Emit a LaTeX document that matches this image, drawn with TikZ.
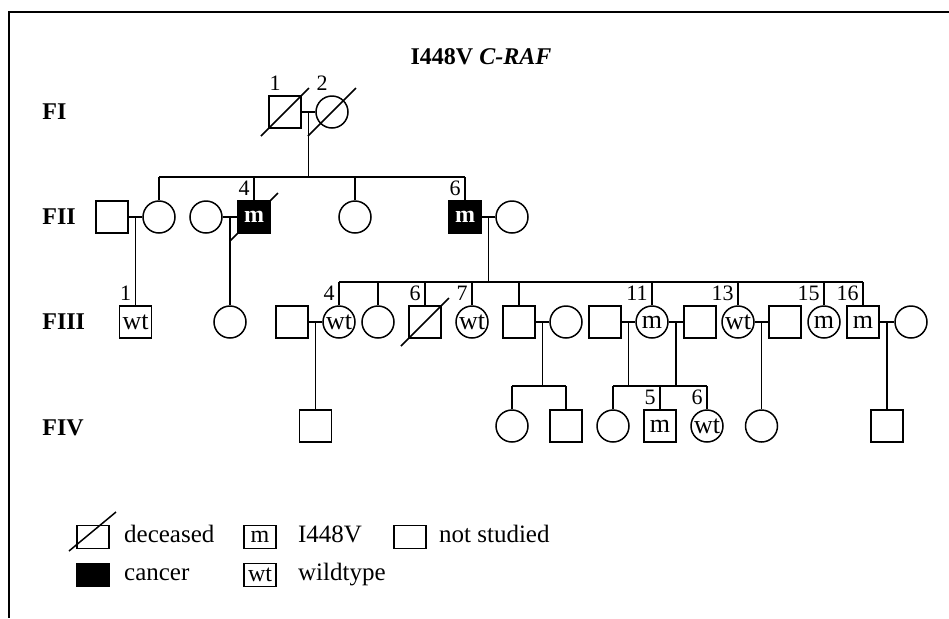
\documentclass[tikz,border=0pt]{standalone}
\usepackage{fontspec}
\setmainfont{Liberation Serif}
\usetikzlibrary{calc,positioning,backgrounds}
\tikzset{
  line/.style={draw=black, line width=0.75pt},
  male/.style={draw, line width=0.75pt, rectangle, minimum size=16pt, inner sep=0pt, font=\fontsize{13}{13}\selectfont},
  female/.style={draw, line width=0.75pt, circle, minimum size=16pt, inner sep=0pt, font=\fontsize{13}{13}\selectfont},
  cancer/.style={male, fill=black, text=white, font=\bfseries\fontsize{12}{12}\selectfont},
  num/.style={anchor=south east, inner sep=2pt, font=\fontsize{11}{11}\selectfont},
  gen/.style={anchor=west, inner sep=0pt, font=\bfseries\fontsize{12}{12}\selectfont},
  legbox/.style={draw, line width=0.75pt, rectangle, minimum width=16pt, minimum height=11.5pt, inner sep=0pt, font=\fontsize{12}{12}\selectfont},
  legtext/.style={anchor=west, inner sep=0pt, text height=8pt, text depth=2.5pt, font=\fontsize{12.5}{12.5}\selectfont}
}

\begin{document}
\begin{tikzpicture}[x=0.5pt, y=-0.5pt]
  \useasboundingbox (0,0) rectangle (949,618);
  \draw[line width=0.9pt] (949,12) -- (9,12) -- (9,618);

  \node[font=\bfseries\fontsize{12}{12}\selectfont] (title) at (481,57) {I448V \textit{C-RAF}};

  % generation labels
  \node[gen] (g1) at (42,112) {FI};
  \node[gen] (g2) at (42,217) {FII};
  \node[gen] (g3) at (42,322) {FIII};
  \node[gen] (g4) at (42,428) {FIV};

  % sibship levels
  \coordinate (sib2) at (0,177);
  \coordinate (sib3) at (0,282);
  \coordinate (sib4) at (0,386);

  % FI
  \node[male] (i1) at (285,112) {};
  \node[female] (i2) at (332,112) {};

  % FII
  \node[male] (ii1) at (112,217) {};
  \node[female] (ii2) at (159,217) {};
  \node[female] (ii3) at (206,217) {};
  \node[cancer] (ii4) at (254,217) {m};
  \node[female] (ii5) at (355,217) {};
  \node[cancer] (ii6) at (465,217) {m};
  \node[female] (ii7) at (512,217) {};

  % FIII
  \node[male] (iii1) at (135.5,322) {wt};
  \node[female] (iii2) at (230,322) {};
  \node[male] (iii3) at (292,322) {};
  \node[female] (iii4) at (339,322) {wt};
  \node[female] (iii5) at (378,322) {};
  \node[male] (iii6) at (425,322) {};
  \node[female] (iii7) at (472,322) {wt};
  \node[male] (iii8) at (519,322) {};
  \node[female] (iii9) at (566,322) {};
  \node[male] (iii10) at (605,322) {};
  \node[female] (iii11) at (652,322) {m};
  \node[male] (iii12) at (700,322) {};
  \node[female] (iii13) at (738,322) {wt};
  \node[male] (iii14) at (785,322) {};
  \node[female] (iii15) at (824,322) {m};
  \node[male] (iii16) at (863,322) {m};
  \node[female] (iii17) at (911,322) {};

  % FIV
  \node[male] (iv1) at (315.5,426) {};
  \node[female] (iv2) at (512,426) {};
  \node[male] (iv3) at (566,426) {};
  \node[female] (iv4) at (613,426) {};
  \node[male] (iv5) at (660,426) {m};
  \node[female] (iv6) at (707,426) {wt};
  \node[female] (iv7) at (761.5,426) {};
  \node[male] (iv8) at (887,426) {};

  % numbers
  \node[num] (n-i1) at (i1.north) {1};
  \node[num] (n-i2) at (i2.north) {2};
  \node[num] (n-ii4) at (ii4.north) {4};
  \node[num] (n-ii6) at (ii6.north) {6};
  \node[num] (n-iii1) at (iii1.north) {1};
  \node[num] (n-iii4) at (iii4.north) {4};
  \node[num] (n-iii6) at (iii6.north) {6};
  \node[num] (n-iii7) at (iii7.north) {7};
  \node[num] (n-iii11) at (iii11.north) {11};
  \node[num] (n-iii13) at (iii13.north) {13};
  \node[num] (n-iii15) at (iii15.north) {15};
  \node[num] (n-iii16) at (iii16.north) {16};
  \node[num] (n-iv5) at (iv5.north) {5};
  \node[num] (n-iv6) at (iv6.north) {6};

  % deceased (behind the filled squares)
  \begin{scope}[on background layer]
    \foreach \n in {i1,i2,ii4,iii6}
      \draw[line] ($(\n)+(-24,24)$) -- ($(\n)+(24,-24)$);
  \end{scope}

  % couples
  \draw[line] (i1) -- (i2);
  \draw[line] (ii1) -- (ii2);
  \draw[line] (ii3) -- (ii4);
  \draw[line] (ii6) -- (ii7);
  \draw[line] (iii3) -- (iii4);
  \draw[line] (iii8) -- (iii9);
  \draw[line] (iii10) -- (iii11);
  \draw[line] (iii11) -- (iii12);
  \draw[line] (iii13) -- (iii14);
  \draw[line] (iii16) -- (iii17);

  \coordinate (m1) at ($(i1.east)!0.5!(i2.west)$);
  \coordinate (m21) at ($(ii1.east)!0.5!(ii2.west)$);
  \coordinate (m24) at ($(ii3.east)!0.5!(ii4.west)$);
  \coordinate (m26) at ($(ii6.east)!0.5!(ii7.west)$);
  \coordinate (m34) at ($(iii3.east)!0.5!(iii4.west)$);
  \coordinate (m38) at ($(iii8.east)!0.5!(iii9.west)$);
  \coordinate (m310) at ($(iii10.east)!0.5!(iii11.west)$);
  \coordinate (m311) at ($(iii11.east)!0.5!(iii12.west)$);
  \coordinate (m313) at ($(iii13.east)!0.5!(iii14.west)$);
  \coordinate (m316) at ($(iii16.east)!0.5!(iii17.west)$);

  % FI -> FII
  \draw[line] (m1) -- (m1 |- sib2);
  \draw[line] (ii2.north |- sib2) -- (ii6.north |- sib2);
  \foreach \n in {ii2,ii4,ii5,ii6}
    \draw[line] (\n.north) -- (\n.north |- sib2);

  % FII -> FIII
  \draw[line] (m21) -- (iii1.north);
  \draw[line] (m24) -- (iii2.north);
  \draw[line] (m26) -- (m26 |- sib3);
  \draw[line] (iii4.north |- sib3) -- (iii16.north |- sib3);
  \foreach \n in {iii4,iii5,iii6,iii7,iii8,iii11,iii13,iii15,iii16}
    \draw[line] (\n.north) -- (\n.north |- sib3);

  % FIII -> FIV
  \draw[line] (m34) -- (iv1.north);
  \draw[line] (m38) -- (m38 |- sib4);
  \draw[line] (iv2.north |- sib4) -- (iv3.north |- sib4);
  \draw[line] (m310) -- (m310 |- sib4);
  \draw[line] (m311) -- (m311 |- sib4);
  \draw[line] (iv4.north |- sib4) -- (iv6.north |- sib4);
  \foreach \n in {iv2,iv3,iv4,iv5,iv6}
    \draw[line] (\n.north) -- (\n.north |- sib4);
  \draw[line] (m313) -- (iv7.north);
  \draw[line] (m316) -- (iv8.north);

  % legend
  \node[legbox] (lg-dec) at (93,537) {};
  \draw[line] ($(lg-dec)+(-24,14)$) -- ($(lg-dec)+(23,-25)$);
  \node[legtext, right=7pt of lg-dec] (lt-dec) {deceased};
  \node[legbox, fill=black] (lg-can) at (93,575) {};
  \node[legtext, right=7pt of lg-can] (lt-can) {cancer};
  \node[legbox] (lg-m) at (260,537) {m};
  \node[legtext, right=10.5pt of lg-m] (lt-m) {I448V};
  \node[legbox] (lg-wt) at (260,575) {wt};
  \node[legtext, right=10.5pt of lg-wt] (lt-wt) {wildtype};
  \node[legbox] (lg-ns) at (410,537) {};
  \node[legtext, right=6pt of lg-ns] (lt-ns) {not studied};
\end{tikzpicture}
\end{document}
